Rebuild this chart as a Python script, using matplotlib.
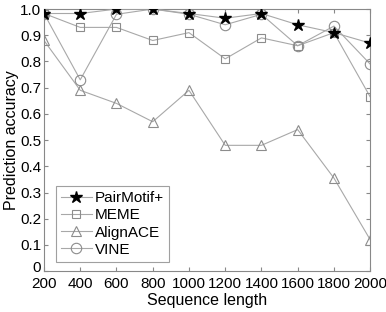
import matplotlib
matplotlib.use('Agg')
import matplotlib.pyplot as plt
import matplotlib.transforms as mtransforms

plt.rcParams['font.family'] = ['Liberation Sans', 'DejaVu Sans']

lengths = [200, 400, 600, 800, 1000, 1200, 1400, 1600, 1800, 2000]
pairmotif = [0.983, 0.983, 1.0, 1.0, 0.983, 0.965, 0.983, 0.94, 0.91, 0.87]
meme = [0.983, 0.93, 0.93, 0.88, 0.91, 0.81, 0.89, 0.86, 0.91, 0.665]
alignace = [0.88, 0.69, 0.64, 0.57, 0.69, 0.48, 0.48, 0.54, 0.355, 0.12]
vine = [0.983, 0.73, 0.98, 1.0, 0.98, 0.94, 0.98, 0.86, 0.935, 0.79]
ytick_labels = ['0', '0.1', '0.2', '0.3', '0.4', '0.5', '0.6', '0.7', '0.8', '0.9', '1.0']

line_color = '#a8a8a8'
mark_color = '#8c8c8c'

fig = plt.figure(figsize=(3.86, 3.12), dpi=100)
ax = fig.add_axes([0.114, 0.131, 0.845, 0.84])

ax.plot(lengths, pairmotif, color=line_color, lw=0.8, marker='*', ms=9,
        mfc='black', mec='black', label='PairMotif+', zorder=5)
ax.plot(lengths, meme, color=line_color, lw=0.8, marker='s', ms=6,
        mfc='none', mec=mark_color, mew=0.8, label='MEME')
ax.plot(lengths, alignace, color=line_color, lw=0.8, marker='^', ms=7.5,
        mfc='none', mec=mark_color, mew=0.8, label='AlignACE')
ax.plot(lengths, vine, color=line_color, lw=0.8, marker='o', ms=7.5,
        mfc='none', mec=mark_color, mew=0.8, label='VINE')

ax.set_xlim(200, 2000)
ax.set_ylim(0, 1.0)
ax.set_xticks(range(200, 2001, 200))
ax.set_yticks([i / 10 for i in range(11)])
ax.set_yticklabels(ytick_labels)
ax.tick_params(direction='in', top=True, right=True, labelsize=11,
               length=3, color='#888888')
ax.tick_params(axis='x', pad=4)
ax.tick_params(axis='y', pad=2)
for s in ax.spines.values():
    s.set_color('#888888')
    s.set_linewidth(0.8)

# nudge the "0" label up a little so it clears the x tick labels
zero_lbl = ax.get_yticklabels()[0]
zero_lbl.set_transform(zero_lbl.get_transform() +
                       mtransforms.ScaledTranslation(0, 3 / 72, fig.dpi_scale_trans))

ax.set_xlabel('Sequence length', fontsize=11.5, labelpad=2)
ax.set_ylabel('Prediction accuracy', fontsize=11.5, labelpad=1)

leg = ax.legend(loc='lower left', bbox_to_anchor=(0.036, 0.035), fontsize=11,
                frameon=True, fancybox=False, edgecolor='#888888',
                handlelength=2.0, borderpad=0.35, labelspacing=0.2,
                handletextpad=0.2, borderaxespad=0)
leg.get_frame().set_linewidth(0.8)

fig.savefig('out.png', dpi=100)
